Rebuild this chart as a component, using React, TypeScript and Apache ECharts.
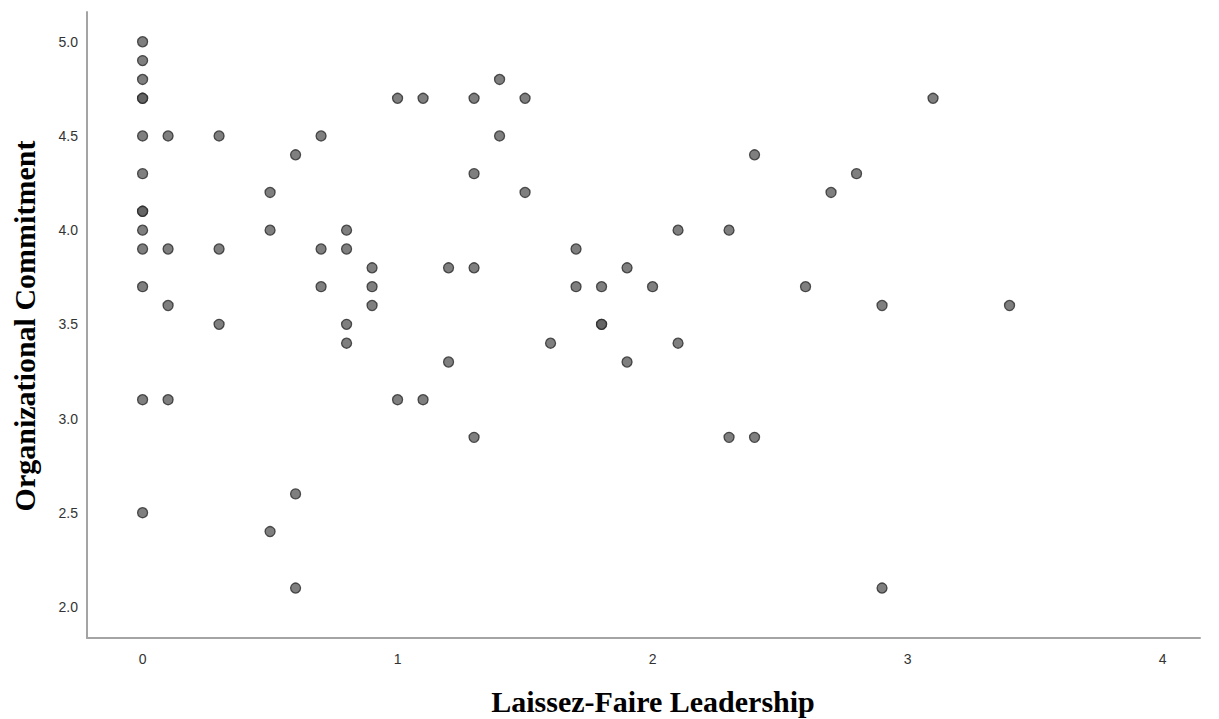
import React, { useEffect, useRef } from "react";
import * as echarts from "echarts";

// Laissez-Faire Leadership scores (x) paired with Organizational Commitment scores (y)
const laissezFaire: number[] = [
  0, 0, 0, 0, 0, 0, 0, 0, 0, 0, 0, 0, 0, 0,
  0.1, 0.1, 0.1, 0.1,
  0.3, 0.3, 0.3,
  0.5, 0.5, 0.5,
  0.6, 0.6, 0.6,
  0.7, 0.7, 0.7,
  0.8, 0.8, 0.8, 0.8,
  0.9, 0.9, 0.9,
  1.0, 1.0,
  1.1, 1.1,
  1.2, 1.2,
  1.3, 1.3, 1.3, 1.3,
  1.4, 1.4,
  1.5, 1.5,
  1.6,
  1.7, 1.7,
  1.8, 1.8, 1.8,
  1.9, 1.9,
  2.0,
  2.1, 2.1,
  2.3, 2.3,
  2.4, 2.4,
  2.6,
  2.7,
  2.8,
  2.9, 2.9,
  3.1,
  3.4,
];

const commitment: number[] = [
  5.0, 4.9, 4.8, 4.7, 4.7, 4.5, 4.3, 4.1, 4.1, 4.0, 3.9, 3.7, 3.1, 2.5,
  4.5, 3.9, 3.6, 3.1,
  4.5, 3.9, 3.5,
  4.2, 4.0, 2.4,
  4.4, 2.6, 2.1,
  4.5, 3.9, 3.7,
  4.0, 3.9, 3.5, 3.4,
  3.8, 3.7, 3.6,
  4.7, 3.1,
  4.7, 3.1,
  3.8, 3.3,
  4.7, 4.3, 3.8, 2.9,
  4.8, 4.5,
  4.7, 4.2,
  3.4,
  3.9, 3.7,
  3.7, 3.5, 3.5,
  3.8, 3.3,
  3.7,
  4.0, 3.4,
  4.0, 2.9,
  4.4, 2.9,
  3.7,
  4.2,
  4.3,
  3.6, 2.1,
  4.7,
  3.6,
];

const xTitle = "Laissez-Faire Leadership";
const yTitle = "Organizational Commitment";

export default function App() {
  const ref = useRef<HTMLDivElement>(null);

  useEffect(() => {
    if (!ref.current) return;
    const chart = echarts.init(ref.current, null, { renderer: "svg" });
    const points = laissezFaire.map((x, i) => [x, commitment[i]]);

    const tickLabel = {
      color: "#333333",
      fontSize: 14,
      fontFamily: "Liberation Sans, Arial, sans-serif",
      showMinLabel: false,
      showMaxLabel: false,
    };
    const axisLine = {
      show: true,
      onZero: false,
      lineStyle: { color: "#a4a4a4", width: 2 },
    };
    const titleStyle = {
      fill: "#000",
      fontSize: 30,
      fontWeight: "bold",
      fontFamily: "Liberation Serif, Times New Roman, serif",
      align: "center",
      verticalAlign: "middle",
    };

    chart.setOption({
      animation: false,
      backgroundColor: "#ffffff",
      grid: { left: 87, right: 19, top: 12, bottom: 81 },
      xAxis: {
        type: "value",
        min: -0.218,
        max: 4.147,
        splitNumber: 5,
        axisLine,
        axisTick: { show: false },
        splitLine: { show: false },
        axisLabel: {
          ...tickLabel,
          margin: 14,
          formatter: (v: number) => String(Math.round(v)),
        },
      },
      yAxis: {
        type: "value",
        min: 1.835,
        max: 5.158,
        splitNumber: 6,
        axisLine,
        axisTick: { show: false },
        splitLine: { show: false },
        axisLabel: {
          ...tickLabel,
          margin: 9,
          formatter: (v: number) => v.toFixed(1),
        },
      },
      graphic: [
        {
          type: "text",
          x: 653,
          y: 701,
          style: { ...titleStyle, text: xTitle },
        },
        {
          type: "text",
          x: 24,
          y: 326,
          rotation: Math.PI / 2,
          style: { ...titleStyle, text: yTitle },
        },
      ],
      series: [
        {
          type: "scatter",
          data: points,
          symbol: "circle",
          symbolSize: 10,
          itemStyle: {
            color: "#5f5f5f",
            borderColor: "#2b2b2b",
            borderWidth: 1.3,
          },
        },
      ],
    });

    return () => chart.dispose();
  }, []);

  return (
    <div
      ref={ref}
      style={{ position: "absolute", left: 0, top: 0, width: 1219, height: 719 }}
    />
  );
}
